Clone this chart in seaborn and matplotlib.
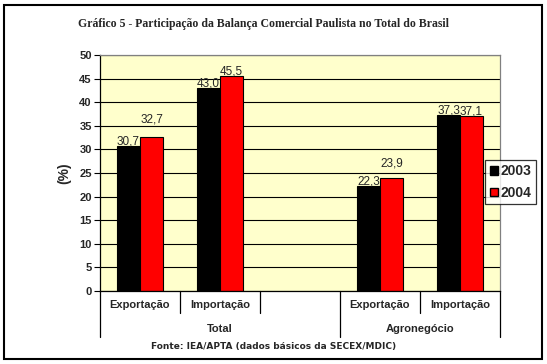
import pandas as pd
import seaborn as sns
import matplotlib.pyplot as plt
from matplotlib.lines import Line2D
from matplotlib.patches import Rectangle, Patch

# data
slots = ['Total Exportação', 'Total Importação', '', 'Agro Exportação', 'Agro Importação']
sub_labels = ['Exportação', 'Importação', '', 'Exportação', 'Importação']
groups = ['Total', 'Agronegócio']
years = ['2003', '2004']
val_2003 = [30.7, 43.0, 22.3, 37.3]
val_2004 = [32.7, 45.5, 23.9, 37.1]
data_slots = ['Total Exportação', 'Total Importação', 'Agro Exportação', 'Agro Importação']

df = pd.DataFrame({
    'slot': data_slots * 2,
    'ano': ['2003'] * 4 + ['2004'] * 4,
    'valor': val_2003 + val_2004,
})

# excel put some labels higher than others (points)
lift = {'2003': [-1, -1, -1, -1], '2004': [8, -1, 6, -1]}

sns.set_style('white')
plt.rcParams['font.family'] = ['Liberation Sans', 'DejaVu Sans']

fig = plt.figure(figsize=(5.47, 3.64), dpi=100)
ax = fig.add_axes([100 / 547, 73 / 364, 400 / 547, 236 / 364])
ax.set_facecolor('#FFFFCC')

sns.barplot(data=df, x='slot', y='valor', hue='ano', order=slots, hue_order=years,
            palette=['black', 'red'], width=0.575, saturation=1,
            edgecolor='black', linewidth=0.8, ax=ax, legend=False)

ax.set_ylim(0, 50)
ax.set_xlim(-0.5, 4.5)
ax.set_yticks(range(0, 51, 5))
ax.yaxis.grid(True, color='black', linewidth=0.8)
ax.set_axisbelow(True)
ax.tick_params(axis='y', left=True, length=4, width=0.8, color='black', labelsize=8, pad=2)
for t in ax.get_yticklabels():
    t.set_fontweight('bold')
ax.set_xticks([])
ax.set_xlabel('')
ax.set_ylabel('(%)', fontsize=10, fontweight='bold', labelpad=6)
for s in ['left', 'bottom']:
    ax.spines[s].set_color('black')
    ax.spines[s].set_linewidth(0.9)
for s in ['top', 'right']:
    ax.spines[s].set_color('#808080')
    ax.spines[s].set_linewidth(0.9)

# value labels
for yr, cont in zip(years, ax.containers):
    bars = [b for b in cont if b.get_height() == b.get_height() and b.get_height() > 0]
    for b, up in zip(bars, lift[yr]):
        h = b.get_height()
        ax.annotate(f'{h:.1f}'.replace('.', ','), (b.get_x() + b.get_width() / 2, h),
                    xytext=(0, up), textcoords='offset points', ha='center', va='bottom',
                    fontsize=8.5)

# multi-level category axis
trans = ax.get_xaxis_transform()
short_y = -22 / 236
long_y = -46 / 236
for x in [-0.5, 2.5, 4.5]:
    ax.add_line(Line2D([x, x], [0, long_y], transform=trans, color='black', lw=0.9, clip_on=False))
for x in [0.5, 1.5, 3.5]:
    ax.add_line(Line2D([x, x], [0, short_y], transform=trans, color='black', lw=0.9, clip_on=False))
for i, lab in enumerate(sub_labels):
    ax.text(i, -14 / 236, lab, transform=trans, ha='center', va='center', fontsize=8, fontweight='bold')
ax.text(1.0, -38 / 236, groups[0], transform=trans, ha='center', va='center', fontsize=8, fontweight='bold')
ax.text(3.5, -38 / 236, groups[1], transform=trans, ha='center', va='center', fontsize=8, fontweight='bold')

# legend
handles = [Patch(facecolor='black', edgecolor='black'), Patch(facecolor='red', edgecolor='black')]
leg = fig.legend(handles, years, loc='center', bbox_to_anchor=(510.5 / 547, 1 - 182 / 364),
                 frameon=True, fancybox=False, edgecolor='black', handlelength=0.6, handleheight=0.6,
                 handletextpad=0.2, borderpad=0.3, labelspacing=0.55, borderaxespad=0,
                 prop={'size': 10, 'weight': 'bold'})
leg.get_frame().set_linewidth(0.9)

fig.text(263 / 547, 1 - 24 / 364,
         'Gráfico 5 - Participação da Balança Comercial Paulista no Total do Brasil',
         ha='center', va='center', fontsize=8.5, fontweight='bold', family='Liberation Serif')
fig.text(274 / 547, 1 - 346 / 364, 'Fonte: IEA/APTA (dados básicos da SECEX/MDIC)',
         ha='center', va='center', fontsize=6.5, fontweight='bold', family='DejaVu Sans')

# outer frame
fig.patches.append(Rectangle((4 / 547, 5 / 364), 538 / 547, 354 / 364, transform=fig.transFigure,
                             fill=False, edgecolor='black', linewidth=1.5))

plt.savefig('out.png', dpi=100)
